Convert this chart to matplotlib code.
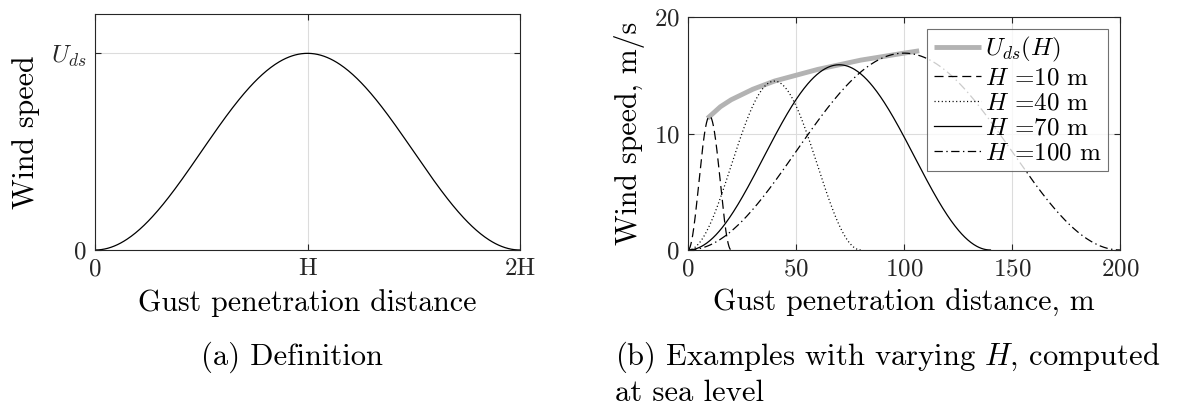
import numpy as np
import matplotlib
matplotlib.use("Agg")
import matplotlib.pyplot as plt

# --- data ---
# (b) gust lengths H [m] and their design gust velocity U_ds [m/s]
gust_H = [10, 40, 70, 100]
gust_peak = [11.5, 14.5, 15.9, 16.9]
gust_styles = [(0, (6.5, 3.5)), (0, (0.8, 1.8)), "-", (0, (6.0, 2.5, 1.0, 2.5))]

# grey envelope U_ds(H)
env_H = [9, 15, 20, 30, 40, 50, 60, 70, 80, 90, 100, 107]
env_U = [11.3, 12.3, 12.9, 13.8, 14.5, 15.0, 15.5, 15.9, 16.3, 16.6, 16.9, 17.1]

# (a) normalised definition: one gust of length H and amplitude U_ds
def_H = 1.0
def_U = 1.0

plt.rcParams["font.family"] = ["cmr10", "DejaVu Serif"]
plt.rcParams["mathtext.fontset"] = "cm"
plt.rcParams["axes.formatter.use_mathtext"] = True
plt.rcParams["lines.scale_dashes"] = False

GRID = "#dcdcdc"
SPINE = "#262626"


def one_minus_cos(H, U, n=400):
    # 1-cos gust profile over its full length 2H
    s = np.linspace(0, 2 * H, n)
    return s, 0.5 * U * (1 - np.cos(np.pi * s / H))


def style_axes(ax):
    for sp in ax.spines.values():
        sp.set_color(SPINE)
        sp.set_linewidth(0.8)
    ax.tick_params(direction="in", length=4, width=0.8, colors=SPINE,
                   top=True, right=True, labelsize=18, pad=6)
    ax.grid(True, color=GRID, linewidth=0.8)
    ax.set_axisbelow(True)


fig = plt.figure(figsize=(11.85, 4.12), dpi=100)

# ---------- (a) definition ----------
ax1 = fig.add_axes([0.0802, 0.3932, 0.3586, 0.5728])
s, u = one_minus_cos(def_H, def_U)
ax1.plot(s, u, color="k", linewidth=0.9)
ax1.set_xlim(0, 2 * def_H)
ax1.set_ylim(0, 1.2 * def_U)
ax1.set_xticks([0, def_H, 2 * def_H])
ax1.set_xticklabels(["0", "H", "2H"])
ax1.set_yticks([0, def_U])
ax1.set_yticklabels(["0", r"$U_{ds}$"])
style_axes(ax1)
ax1.set_xlabel("Gust penetration distance", fontsize=21.5, labelpad=6)
ax1.set_ylabel("Wind speed", fontsize=21.5, labelpad=8)

# ---------- (b) examples ----------
ax2 = fig.add_axes([0.5806, 0.3932, 0.3646, 0.5655])
ax2.plot(env_H, env_U, color="#b3b3b3", linewidth=3.5, label=r"$U_{ds}(H)$",
         solid_capstyle="butt")
for H, U, ls in zip(gust_H, gust_peak, gust_styles):
    s, u = one_minus_cos(H, U)
    ax2.plot(s, u, color="k", linewidth=0.9, linestyle=ls,
             label=r"$H$ =%d m" % H)
ax2.set_xlim(0, 200)
ax2.set_ylim(0, 20)
ax2.set_xticks([0, 50, 100, 150, 200])
ax2.set_yticks([0, 10, 20])
style_axes(ax2)
ax2.set_xlabel("Gust penetration distance, m", fontsize=21.5, labelpad=6)
ax2.set_ylabel("Wind speed, m/s", fontsize=21.5, labelpad=6)

leg = ax2.legend(loc="upper right", bbox_to_anchor=(0.972, 0.948), fontsize=18,
                 frameon=True, fancybox=False, edgecolor="#4d4d4d",
                 handlelength=1.9, handletextpad=0.15, labelspacing=0.1,
                 borderpad=0.25, borderaxespad=0)
leg.get_frame().set_linewidth(0.8)

# sub-captions
fig.text(0.2465, 0.133, "(a) Definition", fontsize=22, ha="center", va="center")
fig.text(0.519, 0.133, r"(b) Examples with varying $H$, computed", fontsize=22,
         ha="left", va="center")
fig.text(0.519, 0.046, "at sea level", fontsize=22, ha="left", va="center")

fig.savefig("out.png", dpi=100)
